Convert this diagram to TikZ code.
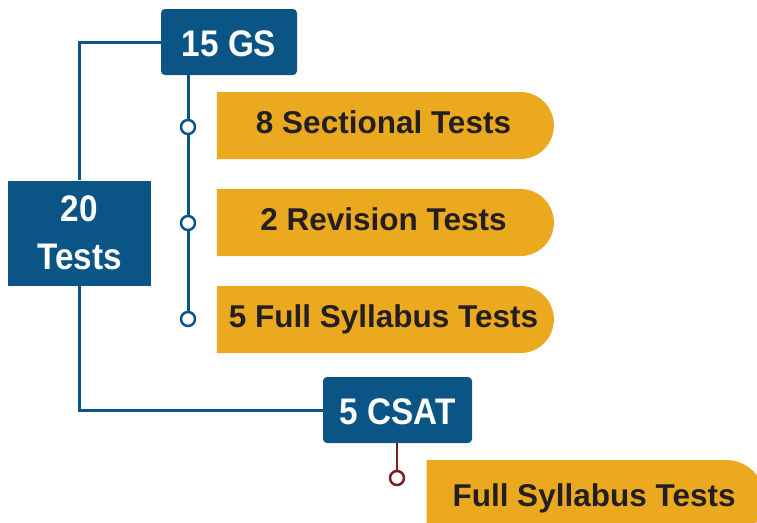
\documentclass[tikz,border=0pt]{standalone}
\usepackage{fontspec}
\setmainfont{Liberation Sans}
\newfontfamily\narrowsans[FakeStretch=0.9]{Liberation Sans}
\usepackage{tikz}
\usetikzlibrary{shapes.misc}
\usepackage{xcolor}
\definecolor{gsblue}{HTML}{0A5585}
\definecolor{tagorange}{HTML}{EBA91F}
\definecolor{csatred}{HTML}{7B1E1E}
\definecolor{tagtext}{HTML}{231F20}
\tikzset{
  headbox/.style={fill=gsblue, text=white, font={\narrowsans\bfseries\fontsize{37}{48}\selectfont}, inner sep=0pt, align=center},
  oneline/.style={text height=28pt, text depth=0pt},
  tagbox/.style={rounded rectangle, rounded rectangle west arc=none, fill=tagorange, text=tagtext, font={\bfseries\fontsize{31.5}{36}\selectfont}, minimum width=337pt, minimum height=67pt, inner sep=0pt, text height=23pt, text depth=8pt},
  link/.style={line width=3pt},
  ring/.style={circle, draw=#1, fill=white, line width=2.5pt, minimum size=14pt, inner sep=0pt}
}

\begin{document}
\begin{tikzpicture}[x=1pt,y=-1pt]
    \useasboundingbox (0,0) rectangle (757,522);
    \clip (0,0) rectangle (757,522);

    \node[headbox, oneline, minimum width=136pt, minimum height=66pt, rounded corners=4pt] (gs) at (229,42) {15 GS};
    \node[headbox, minimum width=143pt, minimum height=105pt] (tests) at (79.5,233) {20\\Tests};
    \node[headbox, oneline, minimum width=149pt, minimum height=66pt, rounded corners=4pt] (csat) at (397.5,410) {5 CSAT};

    \node[tagbox] (sect) at (383.5,125.5) {8 Sectional Tests};
    \node[tagbox] (rev) at (383.5,222.5) {2 Revision Tests};
    \node[tagbox] (full) at (383.5,319.5) {5 Full Syllabus Tests};
    \node[tagbox, minimum width=338pt, minimum height=77pt] (csatfull) at (594,498.5) {Full Syllabus Tests};

    \draw[link, gsblue] (tests.north) |- (gs.west);
    \draw[link, gsblue] (tests.south) |- (csat.west);

    \foreach \y [count=\i] in {127,223,319}
        \coordinate (knot\i) at (188,\y);
    \draw[link, gsblue] (gs.south -| knot1) -- (knot3);
    \foreach \i in {1,2,3}
        \node[ring=gsblue] (ring\i) at (knot\i) {};

    \coordinate (redknot) at (397,478);
    \draw[link, csatred, line width=2.2pt] (csat.south -| redknot) -- (redknot);
    \node[ring=csatred] (redring) at (redknot) {};
\end{tikzpicture}
\end{document}
